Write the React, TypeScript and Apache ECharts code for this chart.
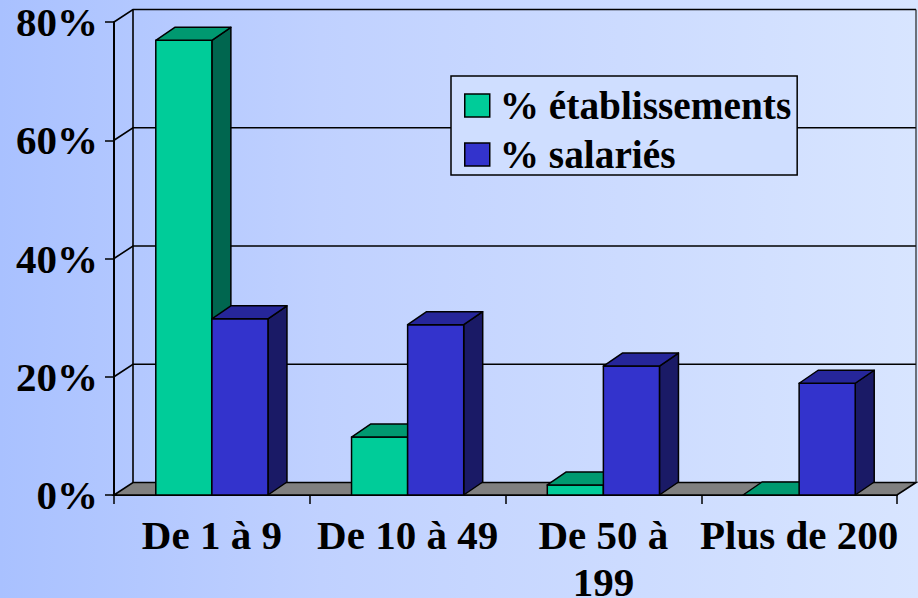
import React, { useEffect, useRef } from "react";
import * as echarts from "echarts";

const categories = ["De 1 à 9", "De 10 à 49", "De 50 à\n199", "Plus de 200"];
const etablissements = [76.9, 9.8, 1.7, 0];
const salaries = [29.8, 28.8, 21.8, 18.9];
const yTicks = [0, 20, 40, 60, 80];
const seriesNames = ["% établissements", "% salariés"];

const FONT = "Liberation Serif";
const DX = 19;
const DY = -12.5;
const BAR_DX = 19;
const BAR_DY = -13;
const BAR_FRACTION = 0.2865;
const EDGE = { stroke: "#000", lineWidth: 1.5, lineJoin: "round" as const };

function bars(offset: number, front: string, top: string, side: string) {
  return (params: any, api: any) => {
    const base = api.coord([api.value(0), 0]);
    const head = api.coord([api.value(0), api.value(1)]);
    const w = api.size([1, 0])[0] * BAR_FRACTION;
    const x0 = base[0] + offset * w;
    const x1 = x0 + w;
    const y0 = base[1];
    const y1 = head[1];
    const children: any[] = [];
    if (y0 - y1 > 0.5) {
      children.push({
        type: "polygon",
        shape: { points: [[x1, y0], [x1 + BAR_DX, y0 + BAR_DY], [x1 + BAR_DX, y1 + BAR_DY], [x1, y1]] },
        style: { fill: side, ...EDGE },
      });
      children.push({
        type: "rect",
        shape: { x: x0, y: y1, width: w, height: y0 - y1 },
        style: { fill: front, ...EDGE },
      });
    }
    children.push({
      type: "polygon",
      shape: { points: [[x0, y1], [x0 + BAR_DX, y1 + BAR_DY], [x1 + BAR_DX, y1 + BAR_DY], [x1, y1]] },
      style: { fill: top, ...EDGE },
    });
    return { type: "group", children };
  };
}

function walls(params: any, api: any) {
  const cs = params.coordSys;
  const v = api.value(1);
  const y = api.coord([0, v])[1];
  const left = cs.x;
  const right = cs.x + cs.width;
  const line = { stroke: "#000", lineWidth: 1.6, fill: "none" };
  const children: any[] = [];
  if (v === 0) {
    children.push({
      type: "polygon",
      shape: { points: [[left, y], [left + DX, y + DY], [right + DX, y + DY], [right, y]] },
      style: { fill: "#808080", stroke: "#000", lineWidth: 1.6 },
    });
  } else {
    children.push({
      type: "polyline",
      shape: { points: [[left, y], [left + DX, y + DY], [right + DX, y + DY]] },
      style: line,
    });
  }
  if (v === 80) {
    const bottom = cs.y + cs.height;
    children.push({
      type: "line",
      shape: { x1: left + DX, y1: y + DY, x2: left + DX, y2: bottom + DY },
      style: line,
    });
    children.push({
      type: "line",
      shape: { x1: right + DX, y1: y + DY, x2: right + DX, y2: bottom + DY },
      style: { stroke: "#222", lineWidth: 1.2 },
    });
  }
  return { type: "group", children };
}

export default function App() {
  const ref = useRef<HTMLDivElement>(null);
  useEffect(() => {
    const chart = echarts.init(ref.current!, undefined, { renderer: "svg" });
    chart.setOption({
      animation: false,
      backgroundColor: {
        type: "linear",
        x: 0,
        y: 0,
        x2: 1,
        y2: 0,
        colorStops: [
          { offset: 0, color: "#a9c1ff" },
          { offset: 0.35, color: "#c0d1ff" },
          { offset: 1, color: "#d8e5ff" },
        ],
      },
      grid: { left: 114, top: 22, width: 783, height: 473, containLabel: false, outerBoundsMode: "none" },
      legend: {
        left: 451,
        top: 76,
        orient: "vertical",
        data: seriesNames,
        icon: "rect",
        itemWidth: 25,
        itemHeight: 23,
        itemGap: 10,
        padding: [10, 6, 1, 13],
        backgroundColor: "#cfdeff",
        borderColor: "#000",
        borderWidth: 1.5,
        selectedMode: false,
        textStyle: {
          fontFamily: FONT,
          fontWeight: "bold",
          fontSize: 39.3,
          color: "#000",
          padding: [0, 0, 0, 5],
        },
        itemStyle: { borderColor: "#000", borderWidth: 1.5 },
      },
      xAxis: {
        type: "category",
        data: categories,
        axisLine: { lineStyle: { color: "#000", width: 2 } },
        axisTick: { show: true, length: 9, lineStyle: { color: "#000", width: 1.5 } },
        axisLabel: {
          interval: 0,
          margin: 16,
          fontFamily: FONT,
          fontWeight: "bold",
          fontSize: 41,
          lineHeight: 47,
          color: "#000",
        },
      },
      yAxis: {
        type: "value",
        min: 0,
        max: 80,
        interval: 20,
        splitLine: { show: false },
        axisLine: { show: true, lineStyle: { color: "#000", width: 2 } },
        axisTick: { show: true, length: 9, lineStyle: { color: "#000", width: 1.5 } },
        axisLabel: {
          margin: 16,
          formatter: "{value}%",
          fontFamily: FONT,
          fontWeight: "bold",
          fontSize: 41,
          color: "#000",
        },
      },
      series: [
        {
          type: "custom",
          name: "walls",
          renderItem: walls,
          data: yTicks.map((v) => [0, v]),
          silent: true,
          z: 1,
        },
        {
          type: "custom",
          name: seriesNames[0],
          renderItem: bars(-1, "#00cc99", "#009970", "#00664f"),
          itemStyle: { color: "#00cc99" },
          data: etablissements.map((v, i) => [i, v]),
          z: 2,
        },
        {
          type: "custom",
          name: seriesNames[1],
          renderItem: bars(0, "#3333cc", "#26269a", "#1a1a66"),
          itemStyle: { color: "#3333cc" },
          data: salaries.map((v, i) => [i, v]),
          z: 3,
        },
      ],
    });
    return () => chart.dispose();
  }, []);
  return (
    <div
      ref={ref}
      style={{ position: "absolute", left: 0, top: 0, width: 918, height: 598 }}
    />
  );
}
